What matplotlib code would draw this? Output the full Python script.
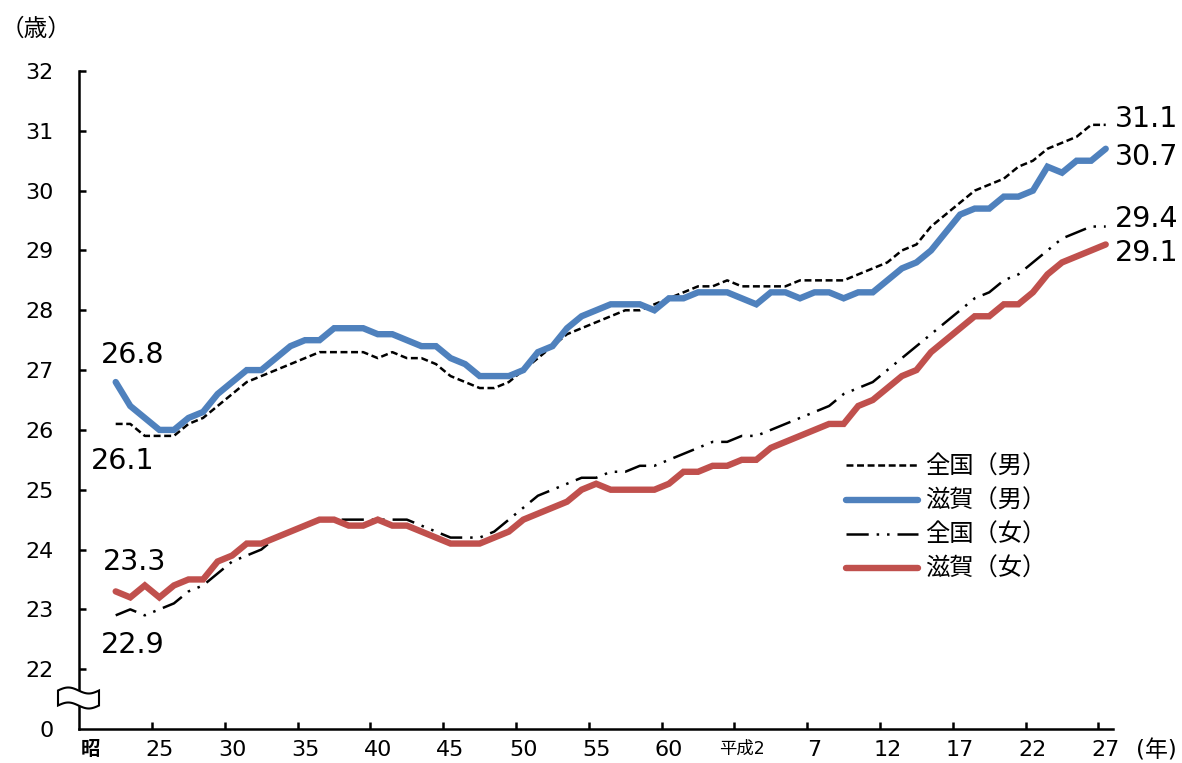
import numpy as np
import matplotlib
matplotlib.use("Agg")
import matplotlib.pyplot as plt
from matplotlib.patches import Polygon

plt.rcParams['font.family'] = ['DejaVu Sans', 'Noto Sans CJK JP']
plt.rcParams['lines.scale_dashes'] = False

# ---------------- data ----------------
years = list(range(1947, 2016))

national_male = [26.1, 26.1, 25.9, 25.9, 25.9, 26.1, 26.2, 26.4, 26.6, 26.8,
                 26.9, 27.0, 27.1, 27.2, 27.3, 27.3, 27.3, 27.3, 27.2, 27.3,
                 27.2, 27.2, 27.1, 26.9, 26.8, 26.7, 26.7, 26.8, 27.0, 27.2,
                 27.4, 27.6, 27.7, 27.8, 27.9, 28.0, 28.0, 28.1, 28.2, 28.3,
                 28.4, 28.4, 28.5, 28.4, 28.4, 28.4, 28.4, 28.5, 28.5, 28.5,
                 28.5, 28.6, 28.7, 28.8, 29.0, 29.1, 29.4, 29.6, 29.8, 30.0,
                 30.1, 30.2, 30.4, 30.5, 30.7, 30.8, 30.9, 31.1, 31.1]

shiga_male = [26.8, 26.4, 26.2, 26.0, 26.0, 26.2, 26.3, 26.6, 26.8, 27.0,
              27.0, 27.2, 27.4, 27.5, 27.5, 27.7, 27.7, 27.7, 27.6, 27.6,
              27.5, 27.4, 27.4, 27.2, 27.1, 26.9, 26.9, 26.9, 27.0, 27.3,
              27.4, 27.7, 27.9, 28.0, 28.1, 28.1, 28.1, 28.0, 28.2, 28.2,
              28.3, 28.3, 28.3, 28.2, 28.1, 28.3, 28.3, 28.2, 28.3, 28.3,
              28.2, 28.3, 28.3, 28.5, 28.7, 28.8, 29.0, 29.3, 29.6, 29.7,
              29.7, 29.9, 29.9, 30.0, 30.4, 30.3, 30.5, 30.5, 30.7]

national_female = [22.9, 23.0, 22.9, 23.0, 23.1, 23.3, 23.4, 23.6, 23.8, 23.9,
                   24.0, 24.2, 24.3, 24.4, 24.5, 24.5, 24.5, 24.5, 24.5, 24.5,
                   24.5, 24.4, 24.3, 24.2, 24.2, 24.2, 24.3, 24.5, 24.7, 24.9,
                   25.0, 25.1, 25.2, 25.2, 25.3, 25.3, 25.4, 25.4, 25.5, 25.6,
                   25.7, 25.8, 25.8, 25.9, 25.9, 26.0, 26.1, 26.2, 26.3, 26.4,
                   26.6, 26.7, 26.8, 27.0, 27.2, 27.4, 27.6, 27.8, 28.0, 28.2,
                   28.3, 28.5, 28.6, 28.8, 29.0, 29.2, 29.3, 29.4, 29.4]

shiga_female = [23.3, 23.2, 23.4, 23.2, 23.4, 23.5, 23.5, 23.8, 23.9, 24.1,
                24.1, 24.2, 24.3, 24.4, 24.5, 24.5, 24.4, 24.4, 24.5, 24.4,
                24.4, 24.3, 24.2, 24.1, 24.1, 24.1, 24.2, 24.3, 24.5, 24.6,
                24.7, 24.8, 25.0, 25.1, 25.0, 25.0, 25.0, 25.0, 25.1, 25.3,
                25.3, 25.4, 25.4, 25.5, 25.5, 25.7, 25.8, 25.9, 26.0, 26.1,
                26.1, 26.4, 26.5, 26.7, 26.9, 27.0, 27.3, 27.5, 27.7, 27.9,
                27.9, 28.1, 28.1, 28.3, 28.6, 28.8, 28.9, 29.0, 29.1]

series_labels = ['全国（男）', '滋賀（男）', '全国（女）', '滋賀（女）']

xtick_pos = [1945.3, 1950, 1955, 1960, 1965, 1970, 1975, 1980, 1985,
             1990, 1995, 2000, 2005, 2010, 2015]
xtick_labels = ['昭', '25', '30', '35', '40', '45', '50', '55', '60',
                '平成2', '7', '12', '17', '22', '27']
ytick_vals = [21, 22, 23, 24, 25, 26, 27, 28, 29, 30, 31, 32]
ytick_labels = ['0', '22', '23', '24', '25', '26', '27', '28', '29', '30', '31', '32']

# ---------------- figure ----------------
W, H = 1182, 763
fig = plt.figure(figsize=(W / 100, H / 100), dpi=100)
ax = fig.add_axes([79.3 / W, (H - 729) / H, (1113 - 79.3) / W, (729 - 71) / H])

blue = '#4F81BD'
red = '#C0504D'

ax.plot(years, national_male, color='black', lw=1.8, dashes=(5, 2.6),
        label=series_labels[0], zorder=2)
ax.plot(years, shiga_male, color=blue, lw=4.6, solid_capstyle='round',
        solid_joinstyle='miter', label=series_labels[1], zorder=3)
ax.plot(years, national_female, color='black', lw=1.8,
        dashes=(16, 5.7, 1.8, 5.7, 1.8, 5.7), label=series_labels[2], zorder=4)
ax.plot(years, shiga_female, color=red, lw=4.6, solid_capstyle='round',
        solid_joinstyle='miter', label=series_labels[3], zorder=5)

ax.set_xlim(1944.5, 2015.5)
ax.set_ylim(21, 32)

for s in ['top', 'right']:
    ax.spines[s].set_visible(False)
for s in ['left', 'bottom']:
    ax.spines[s].set_linewidth(1.8)

# x ticks at category boundaries, labels at centres
ax.set_xticks(np.arange(1949.5, 2015, 5))
ax.set_xticklabels([])
ax.tick_params(axis='x', which='major', direction='in', length=5, width=1.8)
ax.set_xticks(xtick_pos, minor=True)
ax.set_xticklabels(xtick_labels, minor=True, fontsize=16)
ax.tick_params(axis='x', which='minor', length=0, pad=8)
for t in ax.get_xticklabels(minor=True):
    if t.get_text() == '昭':
        t.set_fontweight('bold')
        t.set_fontsize(14)
    elif t.get_text() == '平成2':
        t.set_fontsize(12.5)

ax.set_yticks(ytick_vals)
ax.set_yticklabels(ytick_labels, fontsize=16)
ax.tick_params(axis='y', direction='in', length=5, width=1.8, pad=18.5)
ax.yaxis.get_major_ticks()[0].tick1line.set_visible(False)

# data labels
def px(x, y):
    return x / W, 1 - y / H

lab_fs = 20.5
fig.text(*px(133, 355), '26.8', ha='center', va='center', fontsize=lab_fs)
fig.text(*px(123, 461), '26.1', ha='center', va='center', fontsize=lab_fs)
fig.text(*px(135, 562), '23.3', ha='center', va='center', fontsize=lab_fs)
fig.text(*px(133, 645), '22.9', ha='center', va='center', fontsize=lab_fs)
fig.text(*px(1115, 119), '31.1', ha='left', va='center', fontsize=lab_fs)
fig.text(*px(1115, 157), '30.7', ha='left', va='center', fontsize=lab_fs)
fig.text(*px(1115, 219), '29.4', ha='left', va='center', fontsize=lab_fs)
fig.text(*px(1115, 253), '29.1', ha='left', va='center', fontsize=lab_fs)

# unit labels
fig.text(*px(1, 29), '（歳）', ha='left', va='center', fontsize=17,
         family=['Noto Sans CJK JP'])
fig.text(*px(1156, 751), '(年)', ha='center', va='center', fontsize=16.5,
         family=['DejaVu Sans', 'Noto Sans CJK JP'])

# axis break symbol
t = np.linspace(0, 1, 40)
xs = 58 + 41 * t
wave = -3 * np.sin(2 * np.pi * t)
top = 690.5 + wave
bot = 705.5 + wave
pts = [px(x, y) for x, y in zip(xs, top)] + [px(x, y) for x, y in zip(xs[::-1], bot[::-1])]
fig.add_artist(Polygon(pts, closed=True, facecolor='white', edgecolor='black',
                       lw=1.5, transform=fig.transFigure, zorder=10))

# legend
leg_fs = 17.5
leg = ax.legend(loc='upper left', bbox_to_anchor=px(846, 454),
                bbox_transform=fig.transFigure, frameon=False,
                handlelength=2.96, handletextpad=0.3, labelspacing=0.33,
                borderpad=0, borderaxespad=0,
                prop={'family': ['Noto Sans CJK JP'], 'size': leg_fs})

fig.savefig('out.png', dpi=100)
